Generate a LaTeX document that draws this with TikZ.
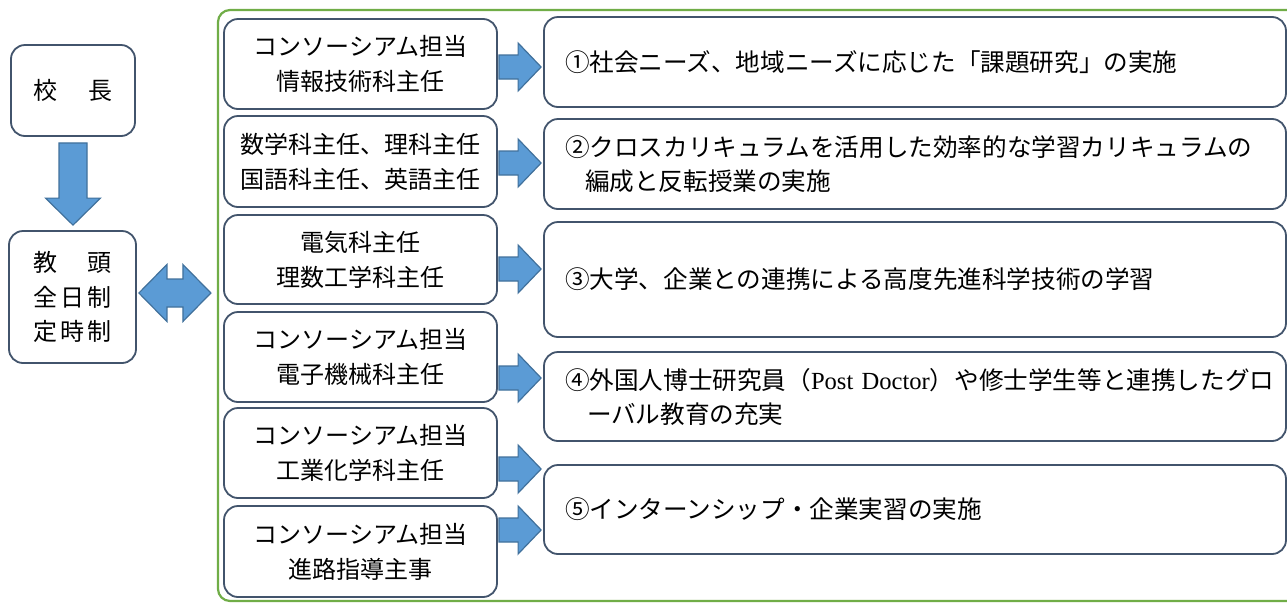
\documentclass[tikz,border=0pt]{standalone}
\usepackage{fontspec}
\setmainfont{Noto Sans CJK JP}
\newfontfamily\lat{Liberation Serif}
\usetikzlibrary{calc}
\definecolor{boxc}{RGB}{66,84,108}
\definecolor{arrf}{RGB}{91,155,213}
\definecolor{arrd}{RGB}{65,113,156}
\definecolor{grn}{RGB}{112,173,71}
\tikzset{
  box/.style={draw=boxc, line width=1.8pt, rounded corners=14pt, fill=white, inner sep=0pt, align=center, font=\fontsize{24}{35}\selectfont},
  lbox/.style={box, minimum width=273pt, minimum height=90pt},
  rbox/.style={box, inner xsep=21pt, text width=700pt, align=left, font=\fontsize{24.6}{34}\selectfont},
  arrstyle/.style={draw=arrd, fill=arrf, line width=1.2pt},
  rarr/.style={arrstyle, to path={let \p1=(\tikztostart), \p2=(\tikztotarget) in
    -- (\x1,\y1+12pt) -- (\x2-23pt,\y1+12pt) -- (\x2-23pt,\y1+24pt) -- (\x2,\y1)
    -- (\x2-23pt,\y1-24pt) -- (\x2-23pt,\y1-12pt) -- (\x1,\y1-12pt) -- cycle}},
  darr/.style={arrstyle, to path={let \p1=(\tikztostart), \p2=(\tikztotarget) in
    -- (\x1+14pt,\y1) -- (\x1+14pt,\y2+27pt) -- (\x1+27.5pt,\y2+27pt) -- (\x1,\y2)
    -- (\x1-27.5pt,\y2+27pt) -- (\x1-14pt,\y2+27pt) -- (\x1-14pt,\y1) -- cycle}},
  dblarr/.style={arrstyle, to path={let \p1=(\tikztostart), \p2=(\tikztotarget) in
    -- (\x1+28pt,\y1+28.5pt) -- (\x1+28pt,\y1+14pt) -- (\x2-28pt,\y1+14pt) -- (\x2-28pt,\y1+28.5pt)
    -- (\x2,\y1) -- (\x2-28pt,\y1-28.5pt) -- (\x2-28pt,\y1-14pt) -- (\x1+28pt,\y1-14pt)
    -- (\x1+28pt,\y1-28.5pt) -- cycle}},
}
\begin{document}
\begin{tikzpicture}[x=1pt,y=-1pt]
\useasboundingbox (0,0) rectangle (1287,603);
\clip (0,0) rectangle (1287,603);
\fill[white] (0,0) rectangle (1287,603);

% green frame
\node[draw=grn, line width=2.2pt, rounded corners=12pt, minimum width=1082pt, minimum height=591pt, inner sep=0pt] (frame) at (759,305.5) {};

% left column
\node[box, minimum width=124pt, minimum height=91pt] (boss) at (73,90.5) {校\hspace{31pt}長};
\node[box, minimum width=127pt, minimum height=132pt, font=\fontsize{24}{34.5}\selectfont] (vp) at (72.5,297)
  {教\hspace{31pt}頭\\全\hspace{3pt}日\hspace{3pt}制\\定\hspace{3pt}時\hspace{3pt}制};

% middle column
\node[lbox] (b1) at (360.5,64) {コンソーシアム担当\\情報技術科主任};
\node[lbox, minimum height=91pt] (b2) at (360.5,161.5) {数学科主任、理科主任\\国語科主任、英語主任};
\node[lbox, minimum height=89pt] (b3) at (360.5,259.5) {電気科主任\\理数工学科主任};
\node[lbox] (b4) at (360.5,357) {コンソーシアム担当\\電子機械科主任};
\node[lbox] (b5) at (360.5,453) {コンソーシアム担当\\工業化学科主任};
\node[lbox, minimum height=91pt] (b6) at (360.5,551.5) {コンソーシアム担当\\進路指導主事};

% right column
\node[rbox, minimum height=90pt] (r1) at (915,62) {①社会ニーズ、地域ニーズに応じた「課題研究」の実施};
\node[rbox, minimum height=90pt] (r2) at (915,164) {②クロスカリキュラムを活用した効率的な学習カリキュラムの\\\hspace*{20pt}編成と反転授業の実施};
\node[rbox, minimum height=115pt] (r3) at (915,279.5) {③大学、企業との連携による高度先進科学技術の学習};
\node[rbox, minimum height=89pt] (r4) at (915,396.5) {④外国人博士研究員（{\lat Post Doctor}）や修士学生等と連携したグロ\\\hspace*{22pt}ーバル教育の充実};
\node[rbox, minimum height=89pt] (r5) at (915,509.5) {⑤インターンシップ・企業実習の実施};

% arrow rows
\coordinate (y1) at (0,67);
\coordinate (y2) at (0,163);
\coordinate (y3) at (0,269);
\coordinate (y4) at (0,378);
\coordinate (y5) at (0,469);
\coordinate (y6) at (0,530);
\coordinate (yd) at (0,293);

\draw[rarr] ($(b1.east |- y1)+(1,0)$) to ($(r1.west |- y1)+(-2,0)$);
\draw[rarr] ($(b2.east |- y2)+(1,0)$) to ($(r2.west |- y2)+(-2,0)$);
\draw[rarr] ($(b3.east |- y3)+(1,0)$) to ($(r3.west |- y3)+(-2,0)$);
\draw[rarr] ($(b4.east |- y4)+(1,0)$) to ($(r4.west |- y4)+(-2,0)$);
\draw[rarr] ($(b5.east |- y5)+(1,0)$) to ($(r5.west |- y5)+(-2,0)$);
\draw[rarr] ($(b6.east |- y6)+(1,0)$) to ($(r5.west |- y6)+(-2,0)$);

\draw[darr] ($(boss.south)+(0,6)$) to ($(vp.north)+(0,-5)$);
\draw[dblarr] ($(vp.east |- yd)+(2,0)$) to ($(frame.west |- yd)+(-6,0)$);
\end{tikzpicture}
\end{document}
